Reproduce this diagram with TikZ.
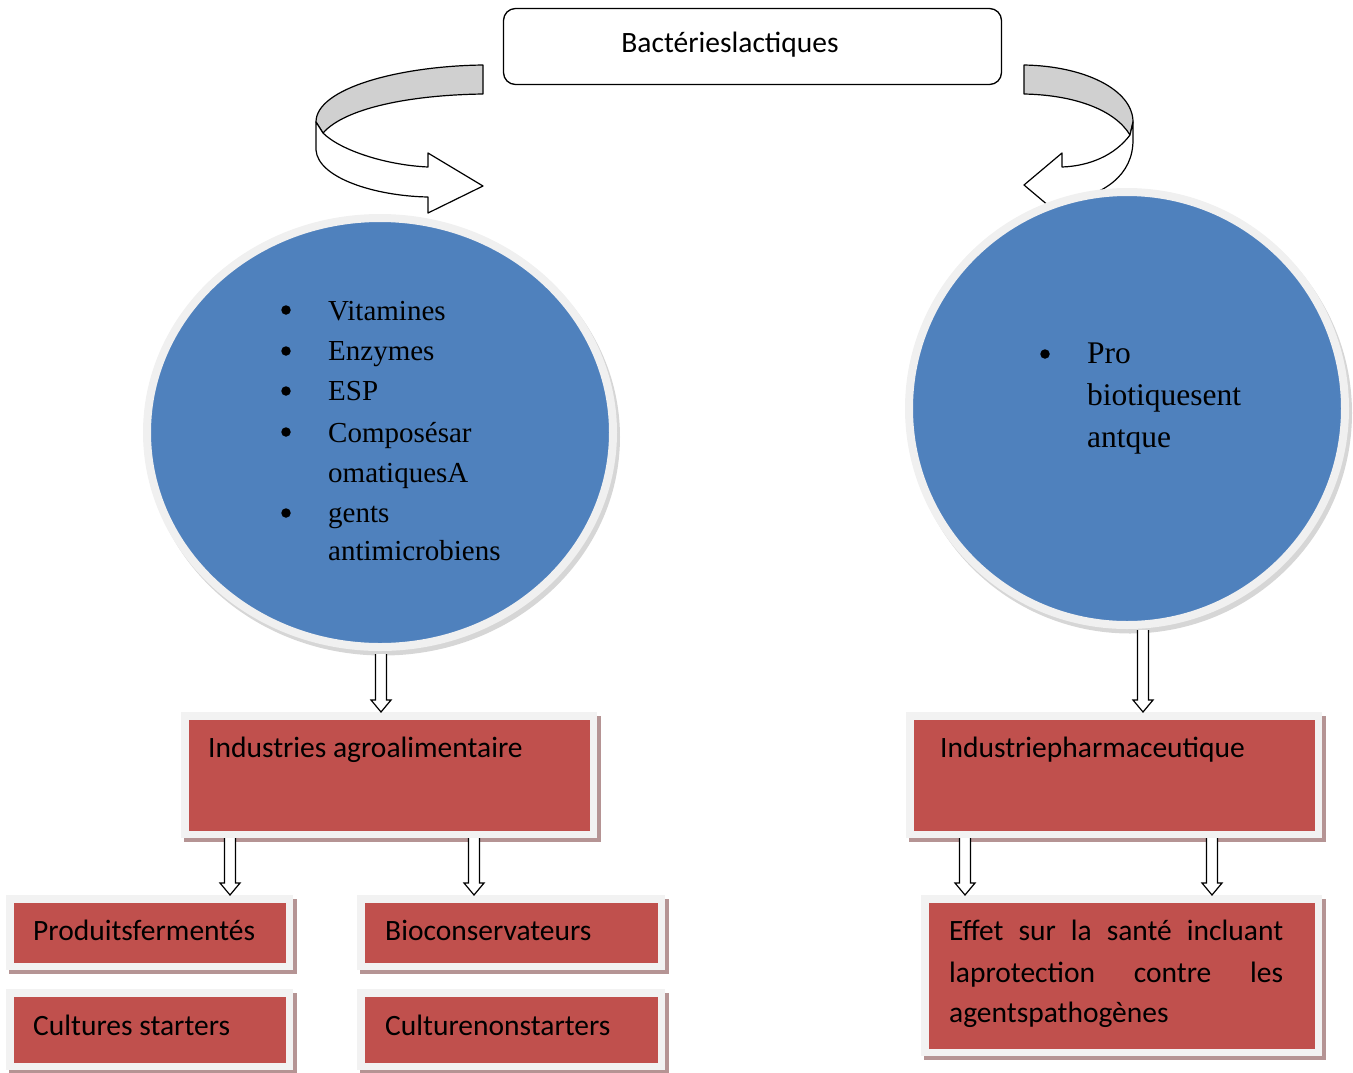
\documentclass[tikz,border=0pt]{standalone}
\usepackage{fontspec}
\setmainfont{Liberation Serif}
\newfontfamily\carlito{Carlito}
\usetikzlibrary{calc,backgrounds,shapes.geometric}
\definecolor{redc}{HTML}{C0504D}
\definecolor{framec}{HTML}{F2F2F2}
\definecolor{boxshadow}{RGB}{181,148,148}
\definecolor{bluec}{HTML}{4F81BD}
\definecolor{ringc}{HTML}{F0F0F0}
\definecolor{circshadow}{HTML}{D6D6D6}
\definecolor{ribbongray}{HTML}{D0D0D0}
\begin{document}
\begin{tikzpicture}[x=1pt,y=-1pt,
  rbox/.style={rectangle, fill=redc, draw=framec, line width=7.5pt, inner sep=0pt},
  circ/.style={ellipse, fill=bluec, draw=ringc, line width=8pt, inner sep=0pt},
  ctext/.style={font=\carlito\fontsize{29.5}{35}\selectfont, anchor=base west, inner sep=0pt},
  stext/.style={font=\fontsize{29}{35}\selectfont, anchor=base west, inner sep=0pt},
  rtext/.style={font=\fontsize{31.5}{38}\selectfont, anchor=base west, inner sep=0pt},
  bul/.style={circle, fill=black, minimum size=9.5pt, inner sep=0pt},
  ribbon/.style={draw=black, line width=1.2pt, line join=round},
  hollowarr/.style={draw=black, line width=1.2pt, fill=white, to path={
    let \p1=(\tikztostart), \p2=(\tikztotarget) in
    (\x2-5.5pt,\y1) -- (\x2-5.5pt,\y2+12pt) -- (\x2-10pt,\y2+12pt) -- (\x2,\y2)
    -- (\x2+10pt,\y2+12pt) -- (\x2+5.5pt,\y2+12pt) -- (\x2+5.5pt,\y1)}}
]
\useasboundingbox (0,0) rectangle (1353,1072);

% top box
\node[draw, rounded corners=12pt, line width=1.3pt, minimum width=498pt, minimum height=76pt, inner sep=0pt] (top) at (752.5,46.5) {};
\node[ctext, anchor=base] (toptext) at (730,52) {Bactérieslactiques};

% ribbon arrows
\draw[ribbon, fill=ribbongray] (483,65) .. controls (400,66) and (316,88) .. (316,122) -- (323,133) .. controls (345,108) and (410,95) .. (483,94) -- cycle;
\draw[ribbon, fill=white] (323,133) .. controls (340,150) and (385,165) .. (428,167) -- (428,153) -- (483,186) -- (428,213) -- (428,197) .. controls (375,196) and (318,178) .. (316,150) -- (316,122) -- cycle;

\draw[ribbon, fill=ribbongray] (1024,65) .. controls (1085,66) and (1133,90) .. (1133,122) -- (1130,135) .. controls (1115,110) and (1075,95) .. (1024,94) -- cycle;
\draw[ribbon, fill=white] (1130,135) .. controls (1115,155) and (1090,166) .. (1062,167) -- (1062,153) -- (1024,185) -- (1062,217) -- (1062,203) .. controls (1105,195) and (1133,175) .. (1133,140) -- (1133,122) -- cycle;

% circles
\fill[circshadow] (383,437) ellipse [x radius=237pt, y radius=218.5pt];
\node[circ, minimum width=466pt, minimum height=429pt] (c1) at (380,432.5) {};
\fill[circshadow] (1130,413) ellipse [x radius=222pt, y radius=220.5pt];
\node[circ, minimum width=436pt, minimum height=433pt] (c2) at (1127,408.5) {};

% left circle text
\node[bul] (lb1) at (286,310) {};
\node[stext] (lt1) at (328,320) {Vitamines};
\node[bul] (lb2) at (286,351) {};
\node[stext] (lt2) at (328,360) {Enzymes};
\node[bul] (lb3) at (286,391) {};
\node[stext] (lt3) at (328,400) {ESP};
\node[bul] (lb4) at (286,432) {};
\node[stext] (lt4) at (328,442) {Composésar};
\node[stext] (lt5) at (328,482) {omatiquesA};
\node[bul] (lb6) at (286,513) {};
\node[stext] (lt6) at (328,522) {gents};
\node[stext] (lt7) at (328,560) {antimicrobiens};

% right circle text
\node[bul] (rb1) at (1045,354) {};
\node[rtext] (rt1) at (1087,363) {Pro};
\node[rtext] (rt2) at (1087,405) {biotiquesent};
\node[rtext] (rt3) at (1087,447) {antque};

% boxes with shadows
\node[rbox, minimum width=408.5pt, minimum height=118.5pt] (b1) at (389,775) {};
\node[rbox, minimum width=408.5pt, minimum height=118.5pt] (b2) at (1114,775) {};
\node[rbox, minimum width=279.5pt, minimum height=67.5pt] (p1) at (149.5,932.5) {};
\node[rbox, minimum width=279.5pt, minimum height=73.5pt] (p2) at (149.5,1029.5) {};
\node[rbox, minimum width=300.5pt, minimum height=67.5pt] (p3) at (511,932.5) {};
\node[rbox, minimum width=300.5pt, minimum height=73.5pt] (p4) at (511,1029.5) {};
\node[rbox, minimum width=393.5pt, minimum height=153.5pt] (p5) at (1121.5,975.5) {};
\begin{scope}[on background layer]
  \foreach \b in {b1,b2,p1,p2,p3,p4,p5}
    \fill[boxshadow] ([shift={(3pt,-4pt)}]\b.north west) rectangle ([shift={(4pt,-4pt)}]\b.south east);
\end{scope}

% box texts
\node[ctext] (tb1) at (208,757) {Industries agroalimentaire};
\node[ctext] (tb2) at (940,757) {Industriepharmaceutique};
\node[ctext] (tp1) at (33,940) {Produitsfermentés};
\node[ctext] (tp2) at (33,1035) {Cultures starters};
\node[ctext] (tp3) at (385,940) {Bioconservateurs};
\node[ctext] (tp4) at (385,1035) {Culturenonstarters};
\node[ctext] (te1) at (949,940) {\makebox[334pt][s]{Effet sur la santé incluant}};
\node[ctext] (te2) at (949,982) {\makebox[334pt][s]{laprotection contre les}};
\node[ctext] (te3) at (949,1022) {agentspathogènes};

% hollow arrows
\draw[hollowarr] ([yshift=-3pt]c1.south) to ([xshift=-8pt]b1.north);
\draw[hollowarr] ([yshift=-1pt]c2.south) to ([xshift=29pt]b2.north);
\draw[hollowarr] (b1.south) to ([xshift=80.5pt]p1.north);
\draw[hollowarr] (b1.south) to ([xshift=-37pt]p3.north);
\draw[hollowarr] (b2.south) to ([xshift=-156.5pt]p5.north);
\draw[hollowarr] (b2.south) to ([xshift=90.5pt]p5.north);
\end{tikzpicture}
\end{document}
